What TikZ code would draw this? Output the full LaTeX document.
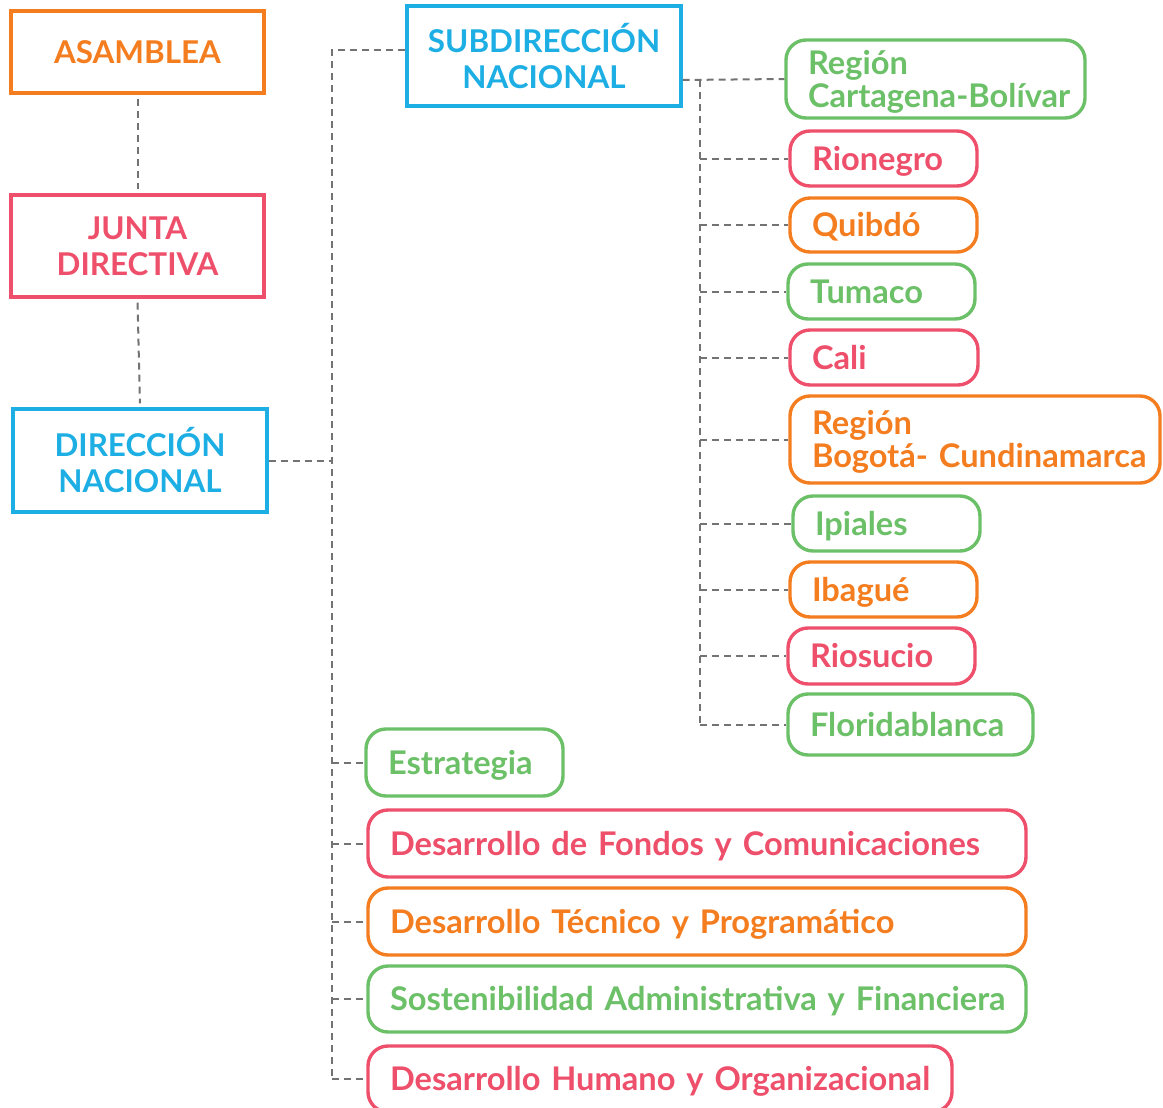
\documentclass[tikz,border=0pt]{standalone}
\usepackage{fontspec}
\setmainfont{Lato}
\definecolor{corange}{HTML}{F47D20}
\definecolor{cpink}{HTML}{EE4F6B}
\definecolor{cgreen}{HTML}{6CC068}
\definecolor{cblue}{HTML}{1DAEE4}
\definecolor{linegray}{HTML}{737373}
\begin{document}
\begin{tikzpicture}[x=0.5pt,y=-0.5pt,
  sq/.style={draw=#1, text=#1, font=\bfseries\fontsize{15.7}{18}\selectfont, line width=1.6pt, rectangle, align=center, inner sep=0pt},
  rd/.style={draw=#1, text=#1, font=\bfseries\fontsize{16.3}{16.5}\selectfont, line width=1.7pt, rounded corners=10pt, align=left, inner xsep=11pt, inner ysep=0pt, text height=11.7pt, text depth=0pt},
  rdtwo/.style={rd=#1, text depth=16.5pt},
  conn/.style={draw=linegray, line width=1pt, dash pattern=on 3.5pt off 2.5pt},
]
\useasboundingbox (0,0) rectangle (1163,1108);
% left column
\node[sq=corange, minimum width=126.5pt, minimum height=41pt] (asam) at (137.5,52) {ASAMBLEA};
\node[sq=cpink, minimum width=126.5pt, minimum height=51pt] (junt) at (137.5,246) {JUNTA\\DIRECTIVA};
\node[sq=cblue, minimum width=127pt, minimum height=51.5pt] (dire) at (140,460.5) {DIRECCIÓN\\NACIONAL};
\node[sq=cblue, minimum width=137pt, minimum height=50pt] (subd) at (544,56) {SUBDIRECCIÓN\\NACIONAL};
% regions
\node[rdtwo=cgreen, minimum width=149.5pt, minimum height=39pt, text width=127.5pt] (cart) at (935.5,79) {\mbox{Región}\\\mbox{Cartagena-Bolívar}};
\node[rd=cpink, minimum width=93.5pt, minimum height=27.5pt, text width=71.5pt] (rion) at (883.5,158.5) {\mbox{Rionegro}};
\node[rd=corange, minimum width=93.5pt, minimum height=27pt, text width=71.5pt] (quib) at (883.5,225) {\mbox{Quibdó}};
\node[rd=cgreen, minimum width=93.5pt, minimum height=27.5pt, text width=71.5pt] (tuma) at (881.5,291.5) {\mbox{Tumaco}};
\node[rd=cpink, minimum width=94pt, minimum height=27.5pt, text width=72pt] (cali) at (884,357.5) {\mbox{Cali}};
\node[rdtwo=corange, minimum width=185pt, minimum height=43.5pt, text width=163pt] (bogo) at (975,439.5) {\mbox{Región}\\\mbox{Bogotá- Cundinamarca}};
\node[rd=cgreen, minimum width=93.5pt, minimum height=27.5pt, text width=71.5pt] (ipia) at (886.5,523.5) {\mbox{Ipiales}};
\node[rd=corange, minimum width=93.5pt, minimum height=27.5pt, text width=71.5pt] (ibag) at (883.5,589.5) {\mbox{Ibagué}};
\node[rd=cpink, minimum width=93.5pt, minimum height=28pt, text width=71.5pt] (rios) at (881.5,656) {\mbox{Riosucio}};
\node[rd=cgreen, minimum width=122.5pt, minimum height=30.5pt, text width=100.5pt] (flor) at (910.5,724.5) {\mbox{Floridablanca}};
% areas
\node[rd=cgreen, minimum width=98.5pt, minimum height=33.5pt, text width=76.5pt] (estr) at (464.5,762.5) {\mbox{Estrategia}};
\node[rd=cpink, minimum width=329pt, minimum height=33.5pt, text width=307pt] (fond) at (697,843.5) {\mbox{Desarrollo de Fondos y Comunicaciones}};
\node[rd=corange, minimum width=329pt, minimum height=33.5pt, text width=307pt] (tecn) at (697,921.5) {\mbox{Desarrollo Técnico y Programático}};
\node[rd=cgreen, minimum width=329pt, minimum height=33pt, text width=307pt] (sost) at (697,999) {\mbox{Sostenibilidad Administrativa y Financiera}};
\node[rd=cpink, minimum width=292pt, minimum height=33pt, text width=270pt] (huma) at (660,1079) {\mbox{Desarrollo Humano y Organizacional}};
% connectors
\draw[conn, shorten <=2pt, shorten >=2pt] (asam.south) -- (junt.north);
\draw[conn, shorten <=2pt, shorten >=2pt] (junt.south) -- (dire.north);
\coordinate (tA) at (332,50);
\coordinate (tB) at (332,1080);
\draw[conn] (subd.west |- tA) -- (tA) -- (tB);
\draw[conn] (dire.east) -- (dire.east -| tA);
\foreach \n in {estr,fond,tecn,sost,huma} \draw[conn] (\n.west -| tA) -- (\n.west);
\coordinate (sA) at (700,80);
\coordinate (sB) at (700,725);
\draw[conn] (subd.east |- sA) -- (cart.west);
\draw[conn] (sA) -- (sB);
\foreach \n in {rion,quib,tuma,cali,bogo,ipia,ibag,rios,flor} \draw[conn] (\n.west -| sA) -- (\n.west);
\end{tikzpicture}
\end{document}
